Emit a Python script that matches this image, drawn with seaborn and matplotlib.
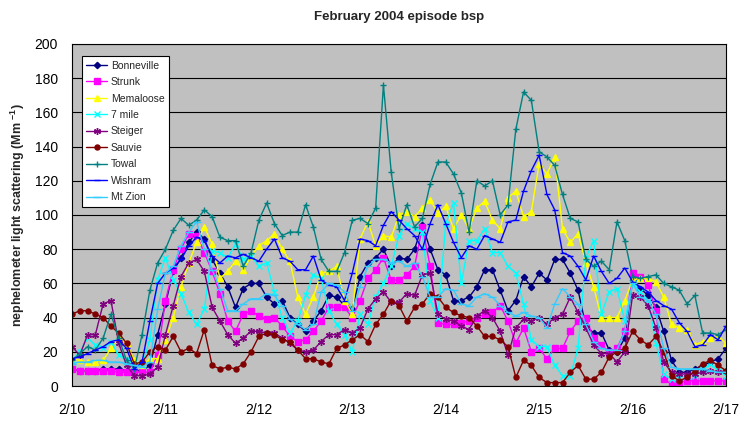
import matplotlib
matplotlib.use("Agg")
import matplotlib.pyplot as plt
import seaborn as sns
import pandas as pd

# time axis: hours since 2/10 00:00, every 2 hours
hours = list(range(0, 169, 2))
day_labels = ["2/10", "2/11", "2/12", "2/13", "2/14", "2/15", "2/16", "2/17"]

bonneville = [10, 9, 9, 9, 10, 10, 10, 9, 9, 9, 12, 30,
              48, 67, 75, 84, 90, 86, 74, 66, 58, 46, 57, 60,
              60, 52, 48, 50, 40, 36, 32, 38, 44, 53, 52, 47,
              45, 64, 72, 75, 80, 70, 75, 74, 80, 94, 80, 68,
              65, 50, 50, 52, 58, 68, 68, 56, 44, 50, 64, 58,
              66, 62, 74, 74, 66, 56, 35, 31, 31, 21, 20, 28,
              62, 57, 53, 46, 32, 15, 8, 8, 10, 12, 14, 16,
              22]
strunk = [10, 9, 9, 9, 9, 9, 8, 8, 8, 8, 8, 18,
          50, 68, 80, 89, 88, 78, 67, 54, 38, 32, 42, 44,
          41, 39, 40, 35, 29, 26, 27, 32, 38, 46, 46, 46,
          40, 50, 63, 68, 75, 62, 62, 65, 70, 93, 70, 37,
          36, 36, 37, 38, 40, 42, 43, 47, 38, 25, 34, 20,
          22, 16, 22, 22, 32, 38, 40, 28, 24, 20, 22, 32,
          66, 64, 59, 44, 4, 1, 2, 3, 3, 3, 3, 3,
          3]
memaloose = [16, 15, 14, 14, 15, 22, 28, 25, 15, 12, 16, 16,
             27, 40, 58, 72, 84, 93, 83, 63, 67, 73, 68, 76,
             82, 85, 89, 80, 73, 52, 42, 52, 66, 67, 70, 50,
             42, 86, 96, 82, 88, 87, 100, 102, 99, 104, 109, 101,
             105, 92, 100, 92, 104, 108, 97, 92, 110, 114, 99, 102,
             130, 124, 134, 92, 84, 89, 72, 58, 40, 40, 40, 50,
             62, 63, 63, 61, 52, 36, 34, 33, 24, 26, 28, 29,
             25]
seven_mile = [15, 20, 28, 24, 22, 26, 18, 16, 12, 12, 27, 62,
              75, 62, 54, 43, 36, 45, 79, 78, 75, 83, 74, 76,
              70, 72, 55, 40, 31, 38, 53, 65, 63, 44, 36, 30,
              20, 42, 36, 52, 60, 70, 88, 95, 92, 90, 50, 40,
              95, 107, 60, 85, 85, 92, 78, 78, 70, 66, 48, 27,
              23, 23, 12, 6, 6, 22, 75, 85, 42, 55, 57, 38,
              60, 55, 50, 25, 7, 4, 5, 6, 6, 10, 13, 9,
              6]
steiger = [23, 18, 30, 30, 48, 50, 25, 12, 6, 6, 7, 11,
           30, 47, 64, 72, 74, 67, 46, 38, 30, 25, 28, 32,
           32, 31, 31, 28, 25, 21, 20, 21, 26, 30, 30, 33,
           31, 34, 45, 51, 55, 49, 49, 54, 53, 65, 66, 42,
           39, 38, 35, 33, 41, 44, 40, 32, 18, 34, 39, 38,
           40, 36, 40, 42, 52, 43, 34, 24, 19, 19, 14, 20,
           53, 52, 47, 34, 14, 8, 7, 7, 7, 8, 9, 8,
           9]
sauvie = [42, 44, 44, 42, 40, 35, 31, 25, 13, 14, 20, 23,
          21, 29, 20, 22, 19, 33, 12, 10, 11, 10, 13, 20,
          29, 31, 30, 27, 26, 21, 16, 16, 14, 13, 22, 24,
          27, 30, 26, 36, 42, 50, 47, 38, 46, 48, 54, 52,
          46, 43, 41, 40, 35, 29, 29, 27, 23, 5, 15, 12,
          5, 2, 2, 2, 8, 12, 4, 4, 8, 17, 20, 22,
          32, 27, 24, 29, 20, 6, 3, 5, 9, 13, 15, 12,
          9]
towal = [15, 19, 23, 21, 28, 42, 28, 15, 10, 30, 56, 72,
         80, 91, 98, 94, 97, 103, 99, 87, 85, 85, 70, 78,
         97, 107, 95, 88, 90, 90, 106, 93, 74, 67, 67, 78,
         97, 98, 95, 104, 176, 125, 92, 106, 93, 98, 118, 131,
         131, 124, 113, 90, 120, 117, 120, 100, 106, 150, 172, 167,
         137, 134, 129, 112, 98, 96, 74, 70, 73, 68, 96, 85,
         64, 63, 64, 65, 60, 58, 56, 48, 53, 31, 31, 30,
         33]
wishram = [16, 17, 19, 21, 23, 26, 27, 22, 10, 14, 38, 60,
           66, 69, 74, 82, 87, 85, 76, 72, 76, 75, 77, 75,
           73, 80, 86, 75, 73, 68, 68, 76, 62, 59, 58, 50,
           66, 86, 85, 82, 94, 102, 97, 92, 88, 80, 95, 106,
           95, 84, 75, 82, 80, 88, 86, 84, 96, 97, 114, 126,
           135, 112, 103, 78, 76, 70, 62, 76, 67, 60, 63, 69,
           61, 58, 55, 50, 47, 45, 37, 32, 23, 24, 30, 27,
           35]
mt_zion = [13, 14, 14, 15, 15, 14, 14, 13, 12, 11, 14, 45,
           66, 70, 82, 90, 96, 80, 68, 57, 44, 44, 48, 51,
           51, 54, 53, 47, 39, 36, 33, 36, 55, 60, 59, 55,
           44, 58, 70, 74, 74, 72, 73, 70, 72, 64, 52, 52,
           57, 56, 48, 47, 52, 54, 52, 47, 43, 41, 43, 41,
           40, 34, 48, 57, 52, 48, 36, 26, 22, 21, 21, 32,
           60, 52, 50, 42, 22, 11, 10, 10, 10, 10, 9, 8,
           8]

series_names = ["Bonneville", "Strunk", "Memaloose", "7 mile", "Steiger",
                "Sauvie", "Towal", "Wishram", "Mt Zion"]
series_values = [bonneville, strunk, memaloose, seven_mile, steiger,
                 sauvie, towal, wishram, mt_zion]

colors = ["#000080", "#FF00FF", "#FFFF00", "#00FFFF", "#800080",
          "#800000", "#008080", "#0000FF", "#33CCFF"]
markers = ["D", "s", "^", "x", (6, 2, 0), "o", "+", "_", "_"]
msizes = [3.2, 4.2, 4.2, 4.2, 5.0, 3.6, 5.0, 4.5, 5.5]

sns.set_theme(style="white")
plt.rcParams["font.family"] = ["Liberation Sans", "DejaVu Sans"]
plt.rcParams["mathtext.default"] = "regular"

fig = plt.figure(figsize=(7.42, 4.21), dpi=100)
ax = fig.add_axes([72 / 742, 1 - 386 / 421, (726 - 72) / 742, (386 - 44) / 421])
ax.set_facecolor("#C0C0C0")

for name, vals, c, m, ms in zip(series_names, series_values, colors, markers, msizes):
    df = pd.DataFrame({"hour": hours, "value": vals})
    sns.lineplot(data=df, x="hour", y="value", ax=ax, color=c, marker=m,
                 markersize=ms, markeredgecolor=c, markerfacecolor=c,
                 markeredgewidth=1.0, linewidth=1.0, label=name)

ax.set_xlim(0, 168)
ax.set_ylim(0, 200)
ax.set_xticks(range(0, 169, 24))
ax.set_xticklabels(day_labels)
ax.set_yticks(range(0, 201, 20))
ax.yaxis.grid(True, color="black", linewidth=0.8)
ax.xaxis.grid(False)
ax.set_axisbelow(True)
for sp in ax.spines.values():
    sp.set_color("black")
    sp.set_linewidth(0.8)
ax.tick_params(axis="both", which="major", direction="out", length=4, width=0.8,
               color="black", labelsize=10, labelcolor="black")
ax.tick_params(axis="x", pad=8)
ax.tick_params(axis="y", pad=6)
ax.set_xlabel("")
ax.set_ylabel("")

leg = ax.legend(loc="upper left", bbox_to_anchor=(0.015, 0.965), borderaxespad=0,
                fontsize=7.5, frameon=True, fancybox=False, framealpha=1,
                edgecolor="black", facecolor="white", handlelength=2.0,
                labelspacing=0.62, borderpad=0.45, handletextpad=0.35)
leg.get_frame().set_linewidth(0.8)

fig.text(399 / 742, 1 - 17 / 421, "February 2004 episode bsp", ha="center",
         va="center", fontsize=9.5, fontweight="bold")
fig.text(18 / 742, 1 - 215 / 421, "nephelometer light scattering (Mm $^{-1}$)",
         rotation=90, ha="center", va="center", fontsize=9, fontweight="bold")

fig.savefig("out.png", dpi=100, facecolor="white")
